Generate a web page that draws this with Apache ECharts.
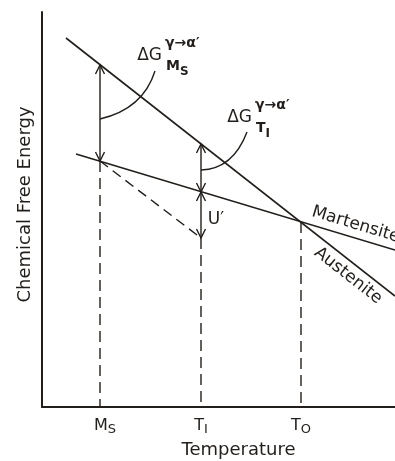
<!DOCTYPE html>
<html><head><meta charset="utf-8">
<script src="https://cdn.jsdelivr.net/npm/echarts@6/dist/echarts.min.js"></script>
<style>html,body{margin:0;padding:0;background:#fff}#c{width:395px;height:461px}</style>
</head><body><div id="c"></div>
<script>
const INK = '#221e1b';
const FONT = 'DejaVu Sans';
// x: temperature, y: chemical free energy (arbitrary units)
const tickValues = [58, 159, 259];
const tickLabels = ['{m|M}{s|S}', 'T{s|I}', 'T{s|O}'];
const austenite = [[24, 369], [353, 111]];
const martensite = [[34, 253], [353, 157]];
const pathToT1 = [[58, 246], [159, 169]];
const drops = [[58, 246], [159, 169], [259, 185]];
const arrows = [[58, 246, 342], [159, 215, 263], [159, 169, 215]];
const arcs = [[58, 288, 101, 298, 113, 336], [159, 237, 191, 238, 205, 275]];
const deltaAnchors = [[120, 351], [210, 289]];
const deltaSubs = ['M{s|S}', 'T{s|I}'];
const uAnchor = [174, 187];
const lineLabelNames = ['Martensite', 'Austenite'];
const lineLabelX = [310, 314];

const lineLabelLines = [martensite, austenite];
const lineLabelSide = [-13, 13];

function vHead(tip, dir) {
  const L = 9, W = 4.5;
  const bx = tip[0] - dir[0] * L, by = tip[1] - dir[1] * L;
  return {type: 'polyline', shape: {points: [[bx - dir[1] * W, by + dir[0] * W], tip, [bx + dir[1] * W, by - dir[0] * W]]},
    style: {stroke: INK, lineWidth: 1.4, fill: 'none'}};
}
const txt = (extra) => Object.assign({fontFamily: FONT, fill: INK}, extra);

const chart = echarts.init(document.getElementById('c'), null, {renderer: 'canvas'});
chart.setOption({
  backgroundColor: '#ffffff',
  animation: false,
  grid: {left: 42, right: 0, top: 12, bottom: 54, containLabel: false, outerBoundsMode: 'none'},
  xAxis: {
    type: 'value', min: 0, max: 353,
    name: 'Temperature', nameLocation: 'middle', nameGap: 32,
    nameTextStyle: {fontFamily: FONT, fontSize: 18, color: INK, padding: [0, 0, 0, 40]},
    axisLine: {show: true, lineStyle: {color: INK, width: 2}},
    axisTick: {show: false}, splitLine: {show: false},
    axisLabel: {
      customValues: tickValues, margin: 9,
      formatter: v => tickLabels[tickValues.indexOf(v)],
      fontFamily: FONT, fontSize: 16, color: INK,
      rich: {
        s: {fontFamily: FONT, fontSize: 13, color: INK, padding: [7, 0, 0, 0]},
        m: {fontFamily: FONT, fontSize: 16, color: INK, padding: [0, 0, 0, 10]}
      }
    }
  },
  yAxis: {
    type: 'value', min: 0, max: 395,
    name: 'Chemical Free Energy', nameLocation: 'middle', nameGap: 8, nameRotate: 90,
    nameTextStyle: {fontFamily: FONT, fontSize: 18, color: INK, padding: [0, 0, 0, 10]},
    axisLine: {show: true, lineStyle: {color: INK, width: 2}},
    axisTick: {show: false}, splitLine: {show: false}, axisLabel: {show: false}
  },
  series: [
    {type: 'line', name: 'Austenite', data: austenite, symbol: 'none', lineStyle: {color: INK, width: 1.6}},
    {type: 'line', name: 'Martensite', data: martensite, symbol: 'none', lineStyle: {color: INK, width: 1.6}},
    {type: 'line', data: pathToT1, symbol: 'none', lineStyle: {color: INK, width: 1.4, type: [10, 6]}},
    {type: 'custom', data: drops, renderItem: (p, api) => {
      const a = api.coord([api.value(0), api.value(1)]), b = api.coord([api.value(0), 0]);
      return {type: 'line', shape: {x1: a[0], y1: a[1], x2: b[0], y2: b[1]}, style: {stroke: INK, lineWidth: 1.4, lineDash: [11, 6]}};
    }},
    {type: 'custom', data: arrows, renderItem: (p, api) => {
      const a = api.coord([api.value(0), api.value(1)]), b = api.coord([api.value(0), api.value(2)]);
      const len = Math.hypot(b[0] - a[0], b[1] - a[1]);
      const d = [(b[0] - a[0]) / len, (b[1] - a[1]) / len];
      return {type: 'group', children: [
        {type: 'line', shape: {x1: a[0], y1: a[1], x2: b[0], y2: b[1]}, style: {stroke: INK, lineWidth: 1.4}},
        vHead(b, d), vHead(a, [-d[0], -d[1]])
      ]};
    }},
    {type: 'custom', data: arcs, renderItem: (p, api) => {
      const s = api.coord([api.value(0), api.value(1)]), c = api.coord([api.value(2), api.value(3)]), e = api.coord([api.value(4), api.value(5)]);
      return {type: 'bezierCurve', shape: {x1: s[0], y1: s[1], cpx1: c[0], cpy1: c[1], x2: e[0], y2: e[1]}, style: {stroke: INK, lineWidth: 1.4, fill: 'none'}};
    }},
    {type: 'custom', data: deltaAnchors, renderItem: (p, api) => {
      const a = api.coord([api.value(0), api.value(1)]);
      return {type: 'group', children: [
        {type: 'text', x: a[0], y: a[1], style: txt({text: 'ΔG', fontSize: 17, align: 'right', verticalAlign: 'middle'})},
        {type: 'text', x: a[0] + 3, y: a[1] - 13, style: txt({text: 'γ→α′', fontSize: 14, fontWeight: 'bold', align: 'left', verticalAlign: 'middle'})},
        {type: 'text', x: a[0] + 4, y: a[1] + 10, style: txt({text: deltaSubs[p.dataIndex], fontSize: 14, fontWeight: 'bold', align: 'left', verticalAlign: 'middle',
          rich: {s: {fontFamily: FONT, fill: INK, fontSize: 12, fontWeight: 'bold', padding: [11, 0, 0, 0]}}})}
      ]};
    }},
    {type: 'custom', data: [uAnchor], renderItem: (p, api) => {
      const a = api.coord([api.value(0), api.value(1)]);
      return {type: 'text', x: a[0], y: a[1], style: txt({text: 'U′', fontSize: 17, align: 'center', verticalAlign: 'middle'})};
    }},
    {type: 'custom', data: lineLabelX.map((x, i) => [x, i]), renderItem: (p, api) => {
      const i = p.dataIndex, L = lineLabelLines[i], x = lineLabelX[i];
      const a = api.coord(L[0]), b = api.coord(L[1]);
      const ang = Math.atan2(b[1] - a[1], b[0] - a[0]);
      const t = (x - L[0][0]) / (L[1][0] - L[0][0]);
      const q = api.coord([x, L[0][1] + t * (L[1][1] - L[0][1])]);
      return {type: 'group', x: q[0], y: q[1], rotation: -ang, children: [
        {type: 'text', x: 0, y: lineLabelSide[i], style: txt({text: lineLabelNames[i], fontSize: 17, align: 'center', verticalAlign: 'middle'})}
      ]};
    }}
  ]
});
</script></body></html>
